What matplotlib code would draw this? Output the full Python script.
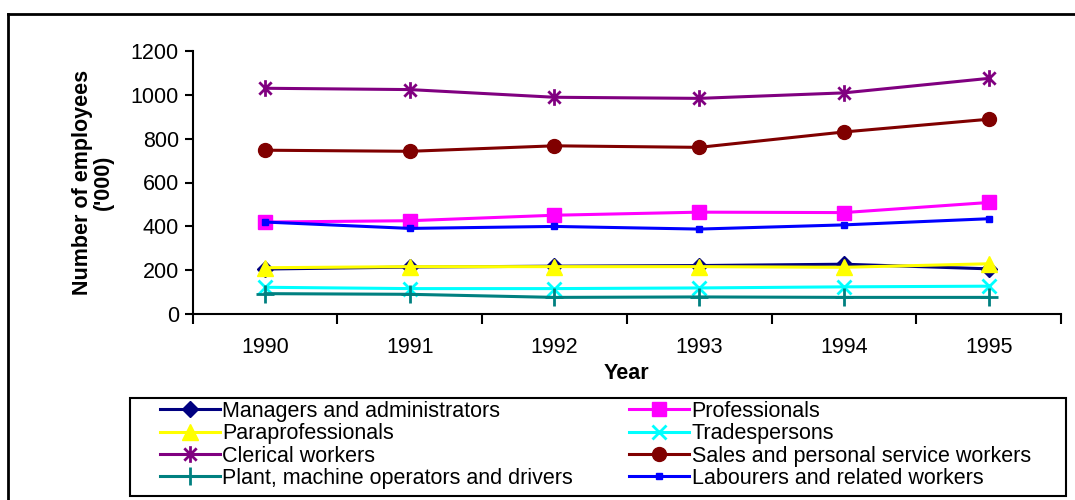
import matplotlib
matplotlib.use("Agg")
import matplotlib.pyplot as plt
from matplotlib.path import Path
from matplotlib.lines import Line2D
from matplotlib.patches import Rectangle

plt.rcParams['font.family'] = ['Liberation Sans', 'DejaVu Sans']

years = ['1990', '1991', '1992', '1993', '1994', '1995']
managers = [206, 215, 219, 222, 228, 207]
professionals = [420, 426, 451, 465, 463, 509]
paraprofessionals = [212, 217, 217, 217, 214, 230]
tradespersons = [123, 117, 117, 120, 125, 128]
clerical = [1029, 1023, 988, 983, 1008, 1074]
sales = [747, 742, 767, 760, 830, 888]
plant = [94, 91, 77, 79, 77, 77]
labourers = [420, 391, 400, 388, 407, 435]

series_names = ['Managers and administrators', 'Professionals', 'Paraprofessionals',
                'Tradespersons', 'Clerical workers', 'Sales and personal service workers',
                'Plant, machine operators and drivers', 'Labourers and related workers']

# asterisk marker (x plus vertical bar)
ast = Path([(-1, -1), (1, 1), (-1, 1), (1, -1), (0, -1.35), (0, 1.35)],
           [Path.MOVETO, Path.LINETO, Path.MOVETO, Path.LINETO, Path.MOVETO, Path.LINETO])

styles = [
    dict(color='#000080', marker='D', ms=8, mfc='#000080', mec='#000080'),
    dict(color='#FF00FF', marker='s', ms=10, mfc='#FF00FF', mec='#FF00FF'),
    dict(color='#FFFF00', marker='^', ms=11, mfc='#FFFF00', mec='#FFFF00'),
    dict(color='#00FFFF', marker='x', ms=10, mew=2, mfc='none', mec='#00FFFF'),
    dict(color='#800080', marker=ast, ms=12, mew=2, mfc='none', mec='#800080'),
    dict(color='#800000', marker='o', ms=10, mfc='#800000', mec='#800000'),
    dict(color='#008080', marker='+', ms=13, mew=2, mfc='none', mec='#008080'),
    dict(color='#0000FF', marker='s', ms=4, mfc='#0000FF', mec='#0000FF'),
]
data = [managers, professionals, paraprofessionals, tradespersons, clerical, sales, plant, labourers]

FS = 15.5
W, H = 1075, 500
fig = plt.figure(figsize=(W / 100, H / 100), dpi=100)
ax = fig.add_axes([192.7 / W, 1 - 314.3 / H, (1061 - 192.7) / W, (314.3 - 50.7) / H])

x = list(range(len(years)))
handles = []
for name, vals, st in zip(series_names, data, styles):
    h, = ax.plot(x, vals, lw=2.2, label=name, clip_on=False, **st)
    handles.append(h)

ax.set_xlim(-0.5, 5.5)
ax.set_ylim(0, 1200)
ax.set_yticks([0, 200, 400, 600, 800, 1000, 1200])
ax.set_xticks([i - 0.5 for i in range(7)])
ax.set_xticklabels([])
ax.set_xticks(x, minor=True)
ax.set_xticklabels(years, minor=True)
ax.tick_params(axis='x', which='major', length=7, width=1.5, direction='out')
ax.tick_params(axis='x', which='minor', length=0, pad=16, labelsize=FS)
ax.tick_params(axis='y', length=6, width=1.5, direction='out', labelsize=FS, pad=4)
for s in ['top', 'right']:
    ax.spines[s].set_visible(False)
for s in ['left', 'bottom']:
    ax.spines[s].set_linewidth(1.5)

ax.set_xlabel('Year', fontsize=FS, fontweight='bold', labelpad=4)
ax.set_ylabel("Number of employees\n('000)", fontsize=FS, fontweight='bold',
              labelpad=12, linespacing=1.0)

# outer frame (only top and left visible)
fig.add_artist(Line2D([8 / W, 1.0], [1 - 14 / H, 1 - 14 / H], color='black', lw=2,
                      transform=fig.transFigure))
fig.add_artist(Line2D([8 / W, 8 / W], [1 - 14 / H, 0], color='black', lw=2,
                      transform=fig.transFigure))

# legend frame
fig.add_artist(Rectangle((130 / W, 1 - 496 / H), (1066 - 130) / W, (496 - 398) / H,
                         fill=False, edgecolor='black', lw=1.5, transform=fig.transFigure))

order = [0, 2, 4, 6, 1, 3, 5, 7]
leg = fig.legend([handles[i] for i in order], [series_names[i] for i in order],
                 ncol=2, loc='upper left', bbox_to_anchor=(160 / W, 1 - 401 / H),
                 frameon=False, fontsize=FS, handlelength=2.8, handletextpad=0.1,
                 columnspacing=2.6, labelspacing=0.06, borderpad=0.0, borderaxespad=0)

fig.savefig('out.png', dpi=100)
